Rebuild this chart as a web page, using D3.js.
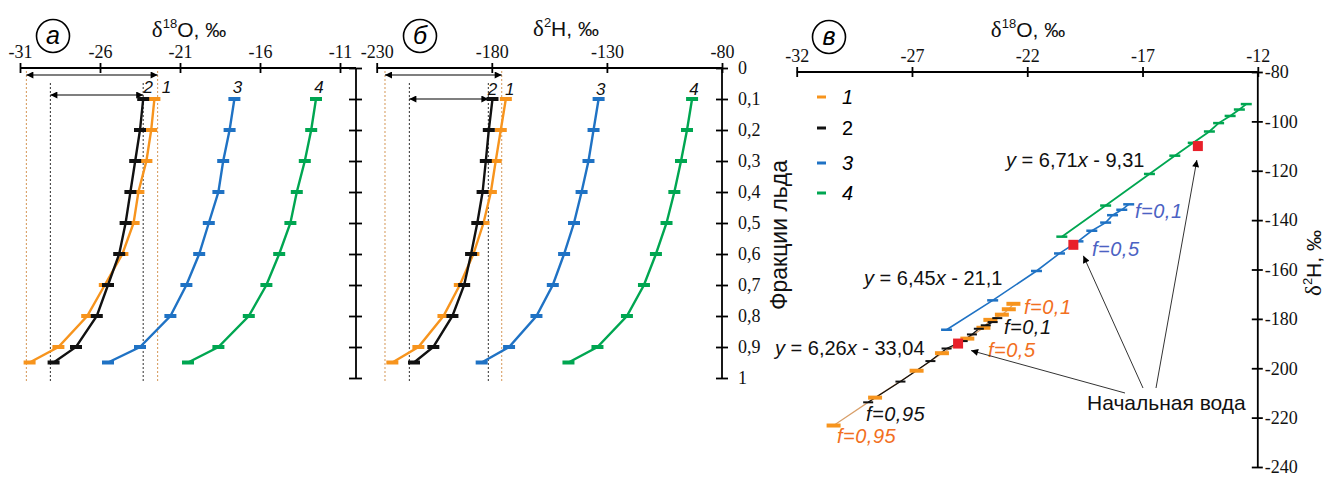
<!DOCTYPE html>
<meta charset="utf-8">
<style>
    body { margin: 0; background: #fff; }
    svg { display: block; }
    .axis path, .axis line { fill: none; stroke: #000; stroke-width: 1.8; }
    .axis text { font: 18px "Liberation Serif", "Times New Roman", serif; fill: #111; }
    .title { font: 21px "Liberation Sans", Arial, sans-serif; fill: #111; }
    .note { font: 20px "Liberation Sans", Arial, sans-serif; fill: #111; }
    .num { font: italic 17px "Liberation Sans", Arial, sans-serif; fill: #111; }
    .fl { font: italic 20px "Liberation Sans", Arial, sans-serif; letter-spacing: 0.5px; }
</style>
<svg id="chart" width="1336" height="478"></svg>
<script src="https://d3js.org/d3.v7.min.js"></script>
<script>

    // fractions of ice
    var fractions = [0.1, 0.2, 0.3, 0.4, 0.5, 0.6, 0.7, 0.8, 0.9, 0.95];
    var fracTicks = [0, 0.1, 0.2, 0.3, 0.4, 0.5, 0.6, 0.7, 0.8, 0.9, 1];

    // d18O per series
    var d18O_1 = [-22.6, -22.8, -23.1, -23.6, -23.9, -24.6, -25.7, -26.8, -28.6, -30.4];
    var d18O_2 = [-23.3, -23.5, -23.8, -24.1, -24.4, -24.8, -25.5, -26.2, -27.5, -28.9];
    var d18O_3 = [-17.6, -17.9, -18.3, -18.6, -19.2, -19.8, -20.6, -21.6, -23.5, -25.5];
    var d18O_4 = [-12.5, -12.8, -13.2, -13.7, -14.1, -14.8, -15.6, -16.7, -18.6, -20.5];

    // d2H per series
    var d2H_1 = [-173.9, -176.1, -178.3, -180.4, -183.6, -188.0, -193.9, -201.0, -211.9, -223.2];
    var d2H_2 = [-179.7, -181.3, -182.6, -184.0, -186.3, -189.0, -192.0, -197.1, -205.4, -213.8];
    var d2H_3 = [-133.6, -135.8, -138.0, -141.0, -144.3, -148.6, -153.5, -160.6, -172.5, -184.4];
    var d2H_4 = [-93.0, -95.2, -97.8, -100.7, -104.1, -108.7, -113.9, -121.3, -134.1, -146.7];

    // initial water (series 2, 3, 4)
    var initO18 = [-25.0, -20.0, -14.6];
    var initH2 = [-190, -150, -110];

    // ranges marked by dotted lines / arrows (series 1, 2)
    var rangeO18 = [[-30.6, -22.4], [-29.1, -23.3]];
    var rangeH2 = [[-226.4, -175.7], [-215.8, -181.5]];

    var ticksO18a = [-31, -26, -21, -16, -11];
    var ticksH2b = [-230, -180, -130, -80];
    var ticksO18c = [-32, -27, -22, -17, -12];
    var ticksH2c = [-80, -100, -120, -140, -160, -180, -200, -220, -240];

    var names = ["1", "2", "3", "4"];
    var colors = ["#f7941d", "#111111", "#1f72c4", "#00a651"];

    var series = [
        {o: d18O_1, h: d2H_1}, {o: d18O_2, h: d2H_2},
        {o: d18O_3, h: d2H_3}, {o: d18O_4, h: d2H_4}
    ].map(function(s, i) {
        return {
            name: names[i], color: colors[i],
            pts: fractions.map(function(f, j) { return {f: f, o: s.o[j], h: s.h[j]}; })
        };
    });

    var svg = d3.select("#chart");
    var fmt = function(d) { return String(d); };

    svg.append("defs").append("marker")
        .attr("id", "arr")
        .attr("viewBox", "0 0 10 10")
        .attr("refX", 10).attr("refY", 5)
        .attr("markerWidth", 9).attr("markerHeight", 7)
        .attr("markerUnits", "userSpaceOnUse")
        .attr("orient", "auto-start-reverse")
        .append("path").attr("d", "M0,0L10,5L0,10Z").attr("fill", "#000");

    // scales
    var yF = d3.scaleLinear().domain([0, 1]).range([68, 378]);
    var xA = d3.scaleLinear().domain([-31, -11]).range([20, 340]);
    var xB = d3.scaleLinear().domain([-230, -80]).range([376.7, 722]);
    var xC = d3.scaleLinear().domain([-32, -12]).range([796.7, 1257.8]);
    var yC = d3.scaleLinear().domain([-80, -240]).range([72, 467]);

    function topAxis(scale, ticks, y, x0, x1) {
        var g = svg.append("g").attr("class", "axis").attr("transform", "translate(0," + y + ")")
            .call(d3.axisTop(scale).tickValues(ticks).tickSize(5).tickPadding(5).tickFormat(fmt));
        g.select(".domain").remove();
        g.selectAll(".tick line").attr("y1", 5);
        g.append("line").attr("x1", x0).attr("x2", x1);
        return g;
    }

    topAxis(xA, ticksO18a, 68, 20, 356);
    topAxis(xB, ticksH2b, 68, xB(-230), 722);
    topAxis(xC, ticksO18c, yC(-80), xC(-32), xC(-12));

    // panel a fraction axis (no labels)
    var gyA = svg.append("g").attr("class", "axis").attr("transform", "translate(356,0)")
        .call(d3.axisLeft(yF).tickValues(fracTicks).tickSize(7).tickFormat(""));
    gyA.select(".domain").remove();
    gyA.selectAll(".tick line").attr("x2", -7).attr("x1", 6);
    gyA.append("line").attr("y1", yF(0)).attr("y2", yF(1));

    // panel b fraction axis
    var gyB = svg.append("g").attr("class", "axis").attr("transform", "translate(722,0)")
        .call(d3.axisRight(yF).tickValues(fracTicks).tickSize(6).tickPadding(10)
            .tickFormat(function(d) { return d === 0 || d === 1 ? String(d) : d3.format(".1f")(d).replace(".", ","); }));
    gyB.select(".domain").remove();
    gyB.selectAll(".tick line").attr("x1", -6);
    gyB.selectAll(".tick text").attr("x", 16);
    gyB.append("line").attr("y1", yF(0)).attr("y2", yF(1));

    // panel c d2H axis
    var gyC = svg.append("g").attr("class", "axis").attr("transform", "translate(" + xC(-12) + ",0)")
        .call(d3.axisRight(yC).tickValues(ticksH2c).tickSize(5).tickPadding(2).tickFormat(fmt));
    gyC.select(".domain").remove();
    gyC.selectAll(".tick line").attr("x1", -6);
    gyC.append("line").attr("y1", yC(-80)).attr("y2", yC(-240));

    // titles
    function deltaTitle(x, y, iso, el) {
        var t = svg.append("text").attr("class", "title").attr("x", x).attr("y", y).attr("text-anchor", "middle");
        t.append("tspan").style("font-family", "'Liberation Serif', serif").style("font-size", "23px").text("δ");
        t.append("tspan").attr("dy", -9).style("font-size", "13px").text(iso);
        t.append("tspan").attr("dy", 9).text(el + ", ‰");
        return t;
    }
    deltaTitle(189, 37, "18", "O");
    deltaTitle(566, 36, "2", "H");
    deltaTitle(1028, 37, "18", "O");
    deltaTitle(0, 0, "2", "H").attr("transform", "translate(1321,263) rotate(-90)");

    svg.append("text").attr("class", "title").attr("text-anchor", "middle")
        .attr("transform", "translate(787,235) rotate(-90)")
        .style("font-size", "23px").text("Фракции льда");

    // panel letters
    [[53, 36, "а"], [420, 36, "б"], [829, 37, "в"]].forEach(function(p) {
        svg.append("circle").attr("cx", p[0]).attr("cy", p[1]).attr("r", 16.5)
            .attr("fill", "none").attr("stroke", "#000").attr("stroke-width", 1.6);
        svg.append("text").attr("x", p[0]).attr("y", p[1] + 8).attr("text-anchor", "middle")
            .style("font", "italic 25px 'Liberation Sans', Arial, sans-serif").text(p[2]);
    });

    // dotted range lines + arrows (panels a, b)
    function ranges(x, rng, arrowY) {
        var dotCol = ["#d9a066", "#444"];
        var top = [71, 83];
        rng.forEach(function(r, i) {
            r.forEach(function(v) {
                svg.append("line").attr("x1", x(v)).attr("x2", x(v))
                    .attr("y1", top[i]).attr("y2", 381)
                    .attr("stroke", dotCol[i]).attr("stroke-width", 1.1)
                    .attr("stroke-dasharray", "2,2");
            });
            svg.append("line").attr("x1", x(r[0])).attr("x2", x(r[1]))
                .attr("y1", arrowY[i]).attr("y2", arrowY[i])
                .attr("stroke", "#000").attr("stroke-width", 1.2)
                .attr("marker-start", "url(#arr)").attr("marker-end", "url(#arr)");
        });
    }
    ranges(xA, rangeO18, [75, 95]);
    ranges(xB, rangeH2, [75, 99]);

    // profile curves (panels a, b)
    function profiles(x, key, labelDx, labelY) {
        series.forEach(function(s, i) {
            var line = d3.line().x(function(d) { return x(d[key]); }).y(function(d) { return yF(d.f); });
            svg.append("path").datum(s.pts).attr("d", line)
                .attr("fill", "none").attr("stroke", s.color).attr("stroke-width", 2.4);
            svg.append("g").selectAll("line").data(s.pts).enter().append("line")
                .attr("x1", function(d) { return x(d[key]) - 6; })
                .attr("x2", function(d) { return x(d[key]) + 6; })
                .attr("y1", function(d) { return yF(d.f); })
                .attr("y2", function(d) { return yF(d.f); })
                .attr("stroke", s.color).attr("stroke-width", 4);
            svg.append("text").attr("class", "num").attr("text-anchor", "middle")
                .attr("x", x(s.pts[0][key]) + labelDx[i]).attr("y", labelY)
                .text(s.name);
        });
    }
    profiles(xA, "o", [12, 5, 3, 3], 93);
    profiles(xB, "h", [4, 0, 2, 2], 95);

    // panel c: d2H vs d18O
    var lineCols = ["#d9a06b", "#111", "#1f72c4", "#00a651"];
    var lineW = [1.2, 1.3, 1.6, 1.8];
    var halfW = [7, 5, 5.5, 5.5];
    var markW = [4, 2, 2.5, 2.5];
    series.forEach(function(s, i) {
        var line = d3.line().x(function(d) { return xC(d.o); }).y(function(d) { return yC(d.h); });
        svg.append("path").datum(s.pts).attr("d", line)
            .attr("fill", "none").attr("stroke", lineCols[i]).attr("stroke-width", lineW[i]);
    });
    series.forEach(function(s, i) {
        svg.append("g").selectAll("line").data(s.pts).enter().append("line")
            .attr("x1", function(d) { return xC(d.o) - halfW[i]; })
            .attr("x2", function(d) { return xC(d.o) + halfW[i]; })
            .attr("y1", function(d) { return yC(d.h); })
            .attr("y2", function(d) { return yC(d.h); })
            .attr("stroke", s.color).attr("stroke-width", markW[i]);
    });

    // initial water squares
    svg.append("g").selectAll("rect").data(initO18).enter().append("rect")
        .attr("x", function(d) { return xC(d) - 5; })
        .attr("y", function(d, i) { return yC(initH2[i]) - 5; })
        .attr("width", 10).attr("height", 10)
        .attr("fill", "#e8202a");

    // legend
    series.forEach(function(s, i) {
        var ly = [97, 128, 163, 193][i];
        svg.append("line").attr("x1", 817).attr("x2", 826).attr("y1", ly).attr("y2", ly)
            .attr("stroke", s.color).attr("stroke-width", 3);
        svg.append("text").attr("x", 842).attr("y", ly + 7)
            .style("font", (i === 1 ? "" : "italic ") + "20px 'Liberation Sans', Arial, sans-serif")
            .text(s.name);
    });

    // regression equations
    function equation(x, y, a, b) {
        var t = svg.append("text").attr("class", "note").attr("x", x).attr("y", y);
        t.append("tspan").style("font-style", "italic").text("y");
        t.append("tspan").text(" = " + a);
        t.append("tspan").style("font-style", "italic").text("x");
        t.append("tspan").text(" - " + b);
    }
    equation(1006, 167, "6,71", "9,31");
    equation(864, 285, "6,45", "21,1");
    equation(775, 355, "6,26", "33,04");

    // f labels
    [
        [1135, 218, "#4b62c3", "f=0,1"],
        [1092, 256, "#4b62c3", "f=0,5"],
        [1024, 314, "#f26f21", "f=0,1"],
        [1004, 334, "#111", "f=0,1"],
        [988, 357, "#f26f21", "f=0,5"],
        [866, 421, "#111", "f=0,95"],
        [837, 443, "#f26f21", "f=0,95"]
    ].forEach(function(p) {
        svg.append("text").attr("class", "fl").attr("x", p[0]).attr("y", p[1])
            .attr("fill", p[2]).text(p[3]);
    });

    // initial water label and arrows
    svg.append("text").attr("class", "note").attr("x", 1087).attr("y", 410)
        .style("font-size", "21px").text("Начальная вода");
    var arrowStart = [[1125, 393], [1143, 388], [1156, 388]];
    var tipOff = [[13, 7], [10, 11], [-1, 14]];
    initO18.forEach(function(v, i) {
        svg.append("line")
            .attr("x1", arrowStart[i][0]).attr("y1", arrowStart[i][1])
            .attr("x2", xC(v) + tipOff[i][0]).attr("y2", yC(initH2[i]) + tipOff[i][1])
            .attr("stroke", "#333").attr("stroke-width", 1)
            .attr("marker-end", "url(#arr)");
    });

</script>
